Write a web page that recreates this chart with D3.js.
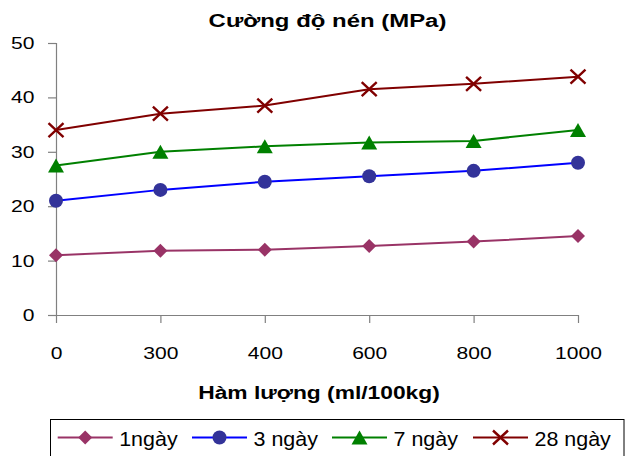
<!DOCTYPE html>
<html>
<head>
<meta charset="utf-8">
<script src="https://cdn.jsdelivr.net/npm/d3@7"></script>
<style>
  body { margin: 0; background: #fff; }
  text { font-family: "Liberation Sans", Arial, sans-serif; }
</style>
</head>
<body>
<div id="chart"></div>
<script>
// chart data
const categories = ["0", "300", "400", "600", "800", "1000"];
const seriesNames = ["1ngày", "3 ngày", "7 ngày", "28 ngày"];
const day1 = [11, 11.8, 12, 12.7, 13.5, 14.5];
const day3 = [21, 23, 24.5, 25.5, 26.5, 28];
const day7 = [27.5, 30, 31, 31.7, 32, 34];
const day28 = [34, 37, 38.5, 41.5, 42.5, 43.8];
const yTicks = [0, 10, 20, 30, 40, 50];

const width = 628, height = 456;

const svg = d3.select("#chart")
  .append("svg")
  .attr("width", width)
  .attr("height", height);

// scales
const x = d3.scalePoint().domain(categories).range([56, 578]);
const y = d3.scaleLinear().domain([0, 50]).range([315, 43]);

const series = [
  { name: seriesNames[0], values: day1, line: "#993366", marker: "#993366", shape: "diamond" },
  { name: seriesNames[1], values: day3, line: "#0000ff", marker: "#333399", shape: "circle" },
  { name: seriesNames[2], values: day7, line: "#008000", marker: "#008000", shape: "triangle" },
  { name: seriesNames[3], values: day28, line: "#800000", marker: "#800000", shape: "cross" }
];

// the original picture is a bit stretched sideways, so text is widened too
const stretch = 1.24;

// axes
const yAxis = svg.append("g")
  .attr("transform", "translate(56,0)")
  .call(d3.axisLeft(y).tickValues(yTicks).tickSize(8));
const xAxis = svg.append("g")
  .attr("transform", "translate(0,315)")
  .call(d3.axisBottom(x).tickSize(8));

[yAxis, xAxis].forEach(g => {
  g.select(".domain").attr("stroke", "#808080").attr("stroke-width", 1.2);
  g.selectAll(".tick line").attr("stroke", "#808080").attr("stroke-width", 1.2);
  g.selectAll(".tick text").attr("fill", "#000").style("font-size", "17px")
    .style("font-family", '"Liberation Sans", Arial, sans-serif');
});
yAxis.selectAll(".tick text")
  .attr("x", 0)
  .attr("transform", `translate(-21.5,0) scale(${stretch},1)`);
xAxis.selectAll(".tick text")
  .attr("y", 0)
  .attr("transform", `translate(0,32) scale(${stretch},1)`);
// x axis line starts under the y ticks
xAxis.select(".domain").attr("d", "M48,0.5H578");

// marker shapes
function markerPath(shape) {
  if (shape === "diamond") return "M0,-7L7,0L0,7L-7,0Z";
  if (shape === "triangle") return "M0,-7L8,7L-8,7Z";
  if (shape === "cross") return "M-7.5,-7L7.5,7M-7.5,7L7.5,-7";
  return d3.symbol().type(d3.symbolCircle).size(Math.PI * 49)();
}

function drawMarker(g, s, cx, cy) {
  const p = g.append("path")
    .attr("transform", `translate(${cx},${cy})`)
    .attr("d", markerPath(s.shape));
  if (s.shape === "cross") {
    p.attr("fill", "none").attr("stroke", s.marker).attr("stroke-width", 2.4);
  } else {
    p.attr("fill", s.marker);
  }
}

const line = d3.line()
  .x((d, i) => x(categories[i]))
  .y(d => y(d));

series.forEach(s => {
  const g = svg.append("g");
  g.append("path")
    .datum(s.values)
    .attr("d", line)
    .attr("fill", "none")
    .attr("stroke", s.line)
    .attr("stroke-width", 2);
  s.values.forEach((v, i) => drawMarker(g, s, x(categories[i]), y(v)));
});

// helper for widened text
function addText(parent, tx, ty, str, size, bold, anchor, sx) {
  return parent.append("text")
    .attr("transform", `translate(${tx},${ty}) scale(${sx},1)`)
    .attr("text-anchor", anchor)
    .style("font-size", size + "px")
    .style("font-weight", bold ? "bold" : "normal")
    .text(str);
}

// titles
addText(svg, 327.5, 26.5, "Cường độ nén (MPa)", 19, true, "middle", 1.26);
addText(svg, 319, 399, "Hàm lượng (ml/100kg)", 19, true, "middle", 1.2);

// legend
const legend = svg.append("g");
legend.append("rect")
  .attr("x", 50.5).attr("y", 419.5)
  .attr("width", 573.5).attr("height", 50)
  .attr("fill", "#fff").attr("stroke", "#000").attr("stroke-width", 1);

const legendX = [57.7, 192, 332, 473];
series.forEach((s, i) => {
  const lx = legendX[i], ly = 437.5;
  legend.append("line")
    .attr("x1", lx).attr("x2", lx + 55)
    .attr("y1", ly).attr("y2", ly)
    .attr("stroke", s.line).attr("stroke-width", 2);
  drawMarker(legend, s, lx + 27.5, ly);
  addText(legend, lx + 61.5, 445.5, s.name, 19.5, false, "start", 1.1);
});
</script>
</body>
</html>
